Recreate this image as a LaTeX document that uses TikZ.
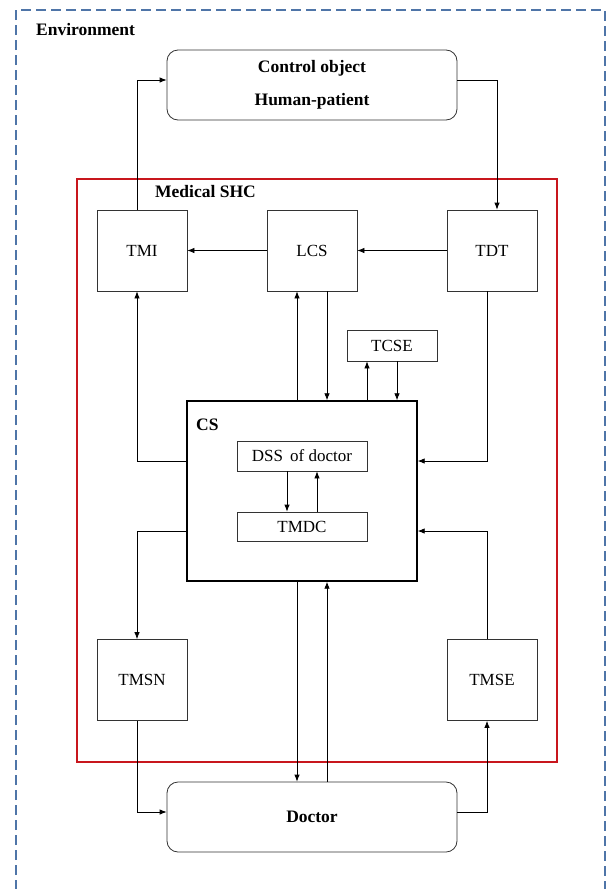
\documentclass[tikz,border=0pt]{standalone}
\usepackage{fontspec}
\setmainfont{Liberation Serif}
\usetikzlibrary{arrows.meta}
\definecolor{envblue}{HTML}{4F75A8}
\definecolor{shcred}{HTML}{C8161D}
\begin{document}
\begin{tikzpicture}[x=1pt,y=-1pt,
  box/.style={draw=black!80,line width=0.8pt,minimum width=90pt,minimum height=81pt,inner sep=0pt,font=\fontsize{17}{19}\selectfont},
  smallbox/.style={draw=black!80,line width=0.8pt,minimum width=130pt,minimum height=30pt,inner sep=0pt,font=\fontsize{17}{19}\selectfont},
  roundbox/.style={draw=black!80,line width=0.8pt,rounded corners=11pt,minimum width=290pt,minimum height=70pt,inner sep=0pt,font=\bfseries\fontsize{17.5}{19}\selectfont},
  lbl/.style={anchor=west,inner sep=0pt,font=\bfseries\fontsize{17.5}{19}\selectfont},
  arr/.style={line width=0.8pt,-{Latex[length=7pt,width=5.5pt]}},
  ln/.style={line width=0.8pt}]
\useasboundingbox (0,0) rectangle (608,889);
\begin{scope}
\clip (0,0) rectangle (608,889);
\draw[envblue,line width=1.8pt,dash pattern=on 10pt off 5pt] (16,905) -- (16,10) -- (605,10) -- (605,905);
\end{scope}
\node[lbl] (envlbl) at (36,30) {Environment};
\draw[shcred,line width=1.3pt] (77,179) rectangle (557,762);
\node[lbl] (shclbl) at (155,192) {Medical SHC};

\node[roundbox] (ctrl) at (312,85) {\raisebox{3pt}{\begin{tabular}{@{}c@{}}Control object\\[14pt]Human-patient\end{tabular}}};
\node[roundbox] (doc) at (312,817) {Doctor};

\node[box] (TMI) at (142,250.5) {TMI};
\node[box] (LCS) at (312,250.5) {LCS};
\node[box] (TDT) at (492,250.5) {TDT};
\node[box,minimum height=31pt] (TCSE) at (392,345.5) {TCSE};
\node[box] (TMSN) at (142,680) {TMSN};
\node[box] (TMSE) at (492,680) {TMSE};

\node[draw=black,line width=1.4pt,minimum width=230pt,minimum height=180pt,inner sep=0pt] (CS) at (302,491) {};
\node[lbl] (cslbl) at (196,425) {CS};
\node[smallbox] (DSS) at (302,456) {DSS\,\ of doctor};
\node[smallbox,minimum height=29pt] (TMDC) at (302,526.5) {TMDC};

% top loop
\draw[arr] ([xshift=-5pt]TMI.north) |- ([yshift=5pt]ctrl.west);
\draw[arr] ([yshift=5pt]ctrl.east) -| ([xshift=5pt]TDT.north);
\draw[arr] (TDT.west) -- (LCS.east);
\draw[arr] (LCS.west) -- (TMI.east);
% LCS <-> CS
\draw[arr] ([xshift=-5pt]CS.north) -- ([xshift=-15pt]LCS.south);
\draw[arr] ([xshift=15pt]LCS.south) -- ([xshift=25pt]CS.north);
% TCSE <-> CS
\draw[arr] ([xshift=65pt]CS.north) -- ([xshift=-25pt]TCSE.south);
\draw[arr] ([xshift=5pt]TCSE.south) -- ([xshift=95pt]CS.north);
% left side
\draw[arr] ([yshift=30pt]CS.west) -| ([xshift=-5pt]TMI.south);
\draw[arr] ([yshift=-40pt]CS.west) -| ([xshift=-5pt]TMSN.north);
% right side
\draw[arr] ([xshift=-5pt]TDT.south) |- ([yshift=30pt]CS.east);
\draw[arr] ([xshift=-5pt]TMSE.north) |- ([yshift=-40pt]CS.east);
% CS <-> Doctor
\draw[arr] ([xshift=-5pt]CS.south) -- ([xshift=-15pt]doc.north);
\draw[arr] ([xshift=15pt]doc.north) -- ([xshift=25pt]CS.south);
% bottom loop
\draw[arr] ([xshift=-5pt]TMSN.south) |- ([yshift=5pt]doc.west);
\draw[arr] ([yshift=5pt]doc.east) -| ([xshift=-5pt]TMSE.south);
% inside CS
\draw[arr] ([xshift=-15pt]DSS.south) -- ([xshift=-15pt]TMDC.north);
\draw[arr] ([xshift=15pt]TMDC.north) -- ([xshift=15pt]DSS.south);
\end{tikzpicture}
\end{document}
